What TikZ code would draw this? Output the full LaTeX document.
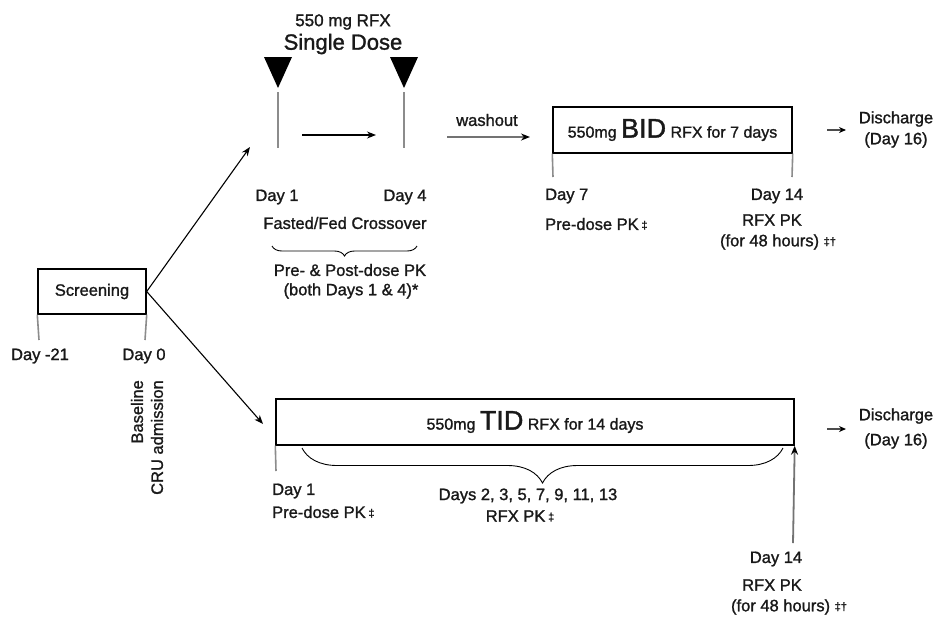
\documentclass[tikz,border=0pt]{standalone}
\usepackage{fontspec}
\setmainfont{Liberation Sans}[FakeBold=1.3]
\usetikzlibrary{arrows.meta,decorations.pathreplacing}
\tikzset{
  lbl/.style={font=\fontsize{16.5}{18}\selectfont, inner sep=0pt, text=black!90},
  boxed/.style={draw=black, line width=1.4pt, inner sep=0pt},
  tick/.style={draw=black!45, line width=1.6pt},
  conn/.style={draw=black, line width=1.1pt, -{Stealth[length=9pt,width=7pt]}},
  gconn/.style={draw=black!55, line width=1.8pt, -{Stealth[length=9pt,width=7pt,black]}},
  brc/.style={draw=black, line width=0.9pt, decorate},
}
\newcommand{\dg}{\,\raisebox{1pt}{\fontsize{11}{11}\selectfont ‡}}
\newcommand{\dgt}{\raisebox{1pt}{\fontsize{11}{11}\selectfont ‡†}}
\begin{document}
\begin{tikzpicture}[x=1pt,y=-1pt]
\useasboundingbox[fill=white] (0,0) rectangle (941,619);

% ---- top dosing
\node[lbl, font=\fontsize{17}{18}\selectfont] (dose1) at (343,22) {550 mg RFX};
\node[lbl, font=\fontsize{22}{23}\selectfont] (dose2) at (343,44) {Single Dose};
\fill[black] (264,57) -- (292,57) -- (278,88) -- cycle;
\fill[black] (390,57) -- (418,57) -- (404,88) -- cycle;
\coordinate (t1a) at (278,92); \coordinate (t1b) at (278,148);
\coordinate (t4a) at (404,92); \coordinate (t4b) at (404,148);
\draw[tick] (t1a) -- (t1b);
\draw[tick] (t4a) -- (t4b);
\coordinate (m1) at (302,135); \coordinate (m2) at (376,135);
\draw[conn] (m1) -- (m2);

\node[lbl] (day1t) at (277,197) {Day 1};
\node[lbl] (day4t) at (405,197) {Day 4};
\node[lbl] (fasted) at (345,223) {Fasted/Fed Crossover};
\coordinate (b1a) at (417,246); \coordinate (b1b) at (272,246);
\draw[brc, decoration={brace, amplitude=10pt}] (b1a) -- (b1b);
\node[lbl] (pre1) at (350,270) {Pre- \& Post-dose PK};
\node[lbl] (pre2) at (351,291) {(both Days 1 \& 4)*};

% ---- washout & BID
\node[lbl] (wash) at (487,120) {washout};
\coordinate (w1) at (447,137); \coordinate (w2) at (530,137);
\draw[gconn] (w1) -- (w2);
\node[boxed, minimum width=239pt, minimum height=46pt] (bid) at (672.5,130) {};
\node[lbl] at (bid.center) {\fontsize{16}{18}\selectfont 550mg \fontsize{27}{28}\selectfont BID\fontsize{16}{18}\selectfont{} RFX for 7 days};
\coordinate (bt1) at (553,177); \coordinate (bt2) at (792,177);
\draw[tick] (bid.south west) -- (bt1);
\draw[tick] (bid.south east) -- (bt2);
\node[lbl, anchor=west] (day7) at (545,196) {Day 7};
\node[lbl, anchor=west] (pk7) at (545,224) {Pre-dose PK\dg};
\node[lbl] (day14a) at (777,196) {Day 14};
\node[lbl] (pk14a) at (772,220) {RFX PK};
\node[lbl] (h48a) at (778,242) {(for 48 hours) \dgt};
\coordinate (da1) at (827,130); \coordinate (da2) at (846,130);
\draw[draw=black!70, line width=1.4pt, -{Stealth[length=7pt,width=6pt,black]}] (da1) -- (da2);
\node[lbl] (dis1) at (896,119) {Discharge};
\node[lbl] (dis1b) at (896,140) {(Day 16)};

% ---- screening
\node[boxed, minimum width=108pt, minimum height=45pt] (scr) at (92,291.5) {};
\node[lbl] at (scr.center) {Screening};
\coordinate (s1) at (39,340); \coordinate (s2) at (145,340);
\draw[tick] (scr.south west) -- (s1);
\draw[tick] (scr.south east) -- (s2);
\node[lbl] (dm21) at (40,356) {Day -21};
\node[lbl] (d0) at (144,356) {Day 0};
\node[lbl, rotate=90, anchor=east] (base) at (137,380) {Baseline};
\node[lbl, rotate=90, anchor=east] (cru) at (157,380) {CRU admission};
\coordinate (up) at (250,147);
\coordinate (dn) at (263,424);
\draw[conn] (scr.east) -- (up);
\draw[conn] (scr.east) -- (dn);

% ---- TID
\node[boxed, minimum width=518pt, minimum height=46pt] (tid) at (535,422) {};
\node[lbl] at (tid.center) {\fontsize{16}{18}\selectfont 550mg \fontsize{27}{28}\selectfont TID\fontsize{16}{18}\selectfont{} RFX for 14 days};
\coordinate (tt1) at (276,471);
\draw[tick] (tid.south west) -- (tt1);
\coordinate (b2a) at (783,448); \coordinate (b2b) at (302,448);
\draw[brc, decoration={brace, amplitude=35pt, aspect=0.5}] (b2a) -- (b2b);
\node[lbl, anchor=west] (day1b) at (272,491) {Day 1};
\node[lbl, anchor=west] (pk1b) at (272,512) {Pre-dose PK\dg};
\node[lbl] (days) at (528,496) {Days 2, 3, 5, 7, 9, 11, 13};
\node[lbl] (pkd) at (520,516) {RFX PK\dg};
\coordinate (ua) at (793,543);
\draw[gconn] (ua) -- (tid.south east);
\node[lbl] (day14b) at (776,559) {Day 14};
\node[lbl] (pk14b) at (772,585) {RFX PK};
\node[lbl] (h48b) at (789,607) {(for 48 hours) \dgt};
\coordinate (db1) at (827,429); \coordinate (db2) at (846,429);
\draw[draw=black!70, line width=1.4pt, -{Stealth[length=7pt,width=6pt,black]}] (db1) -- (db2);
\node[lbl] (dis2) at (896,416) {Discharge};
\node[lbl] (dis2b) at (896,441) {(Day 16)};
\end{tikzpicture}
\end{document}
